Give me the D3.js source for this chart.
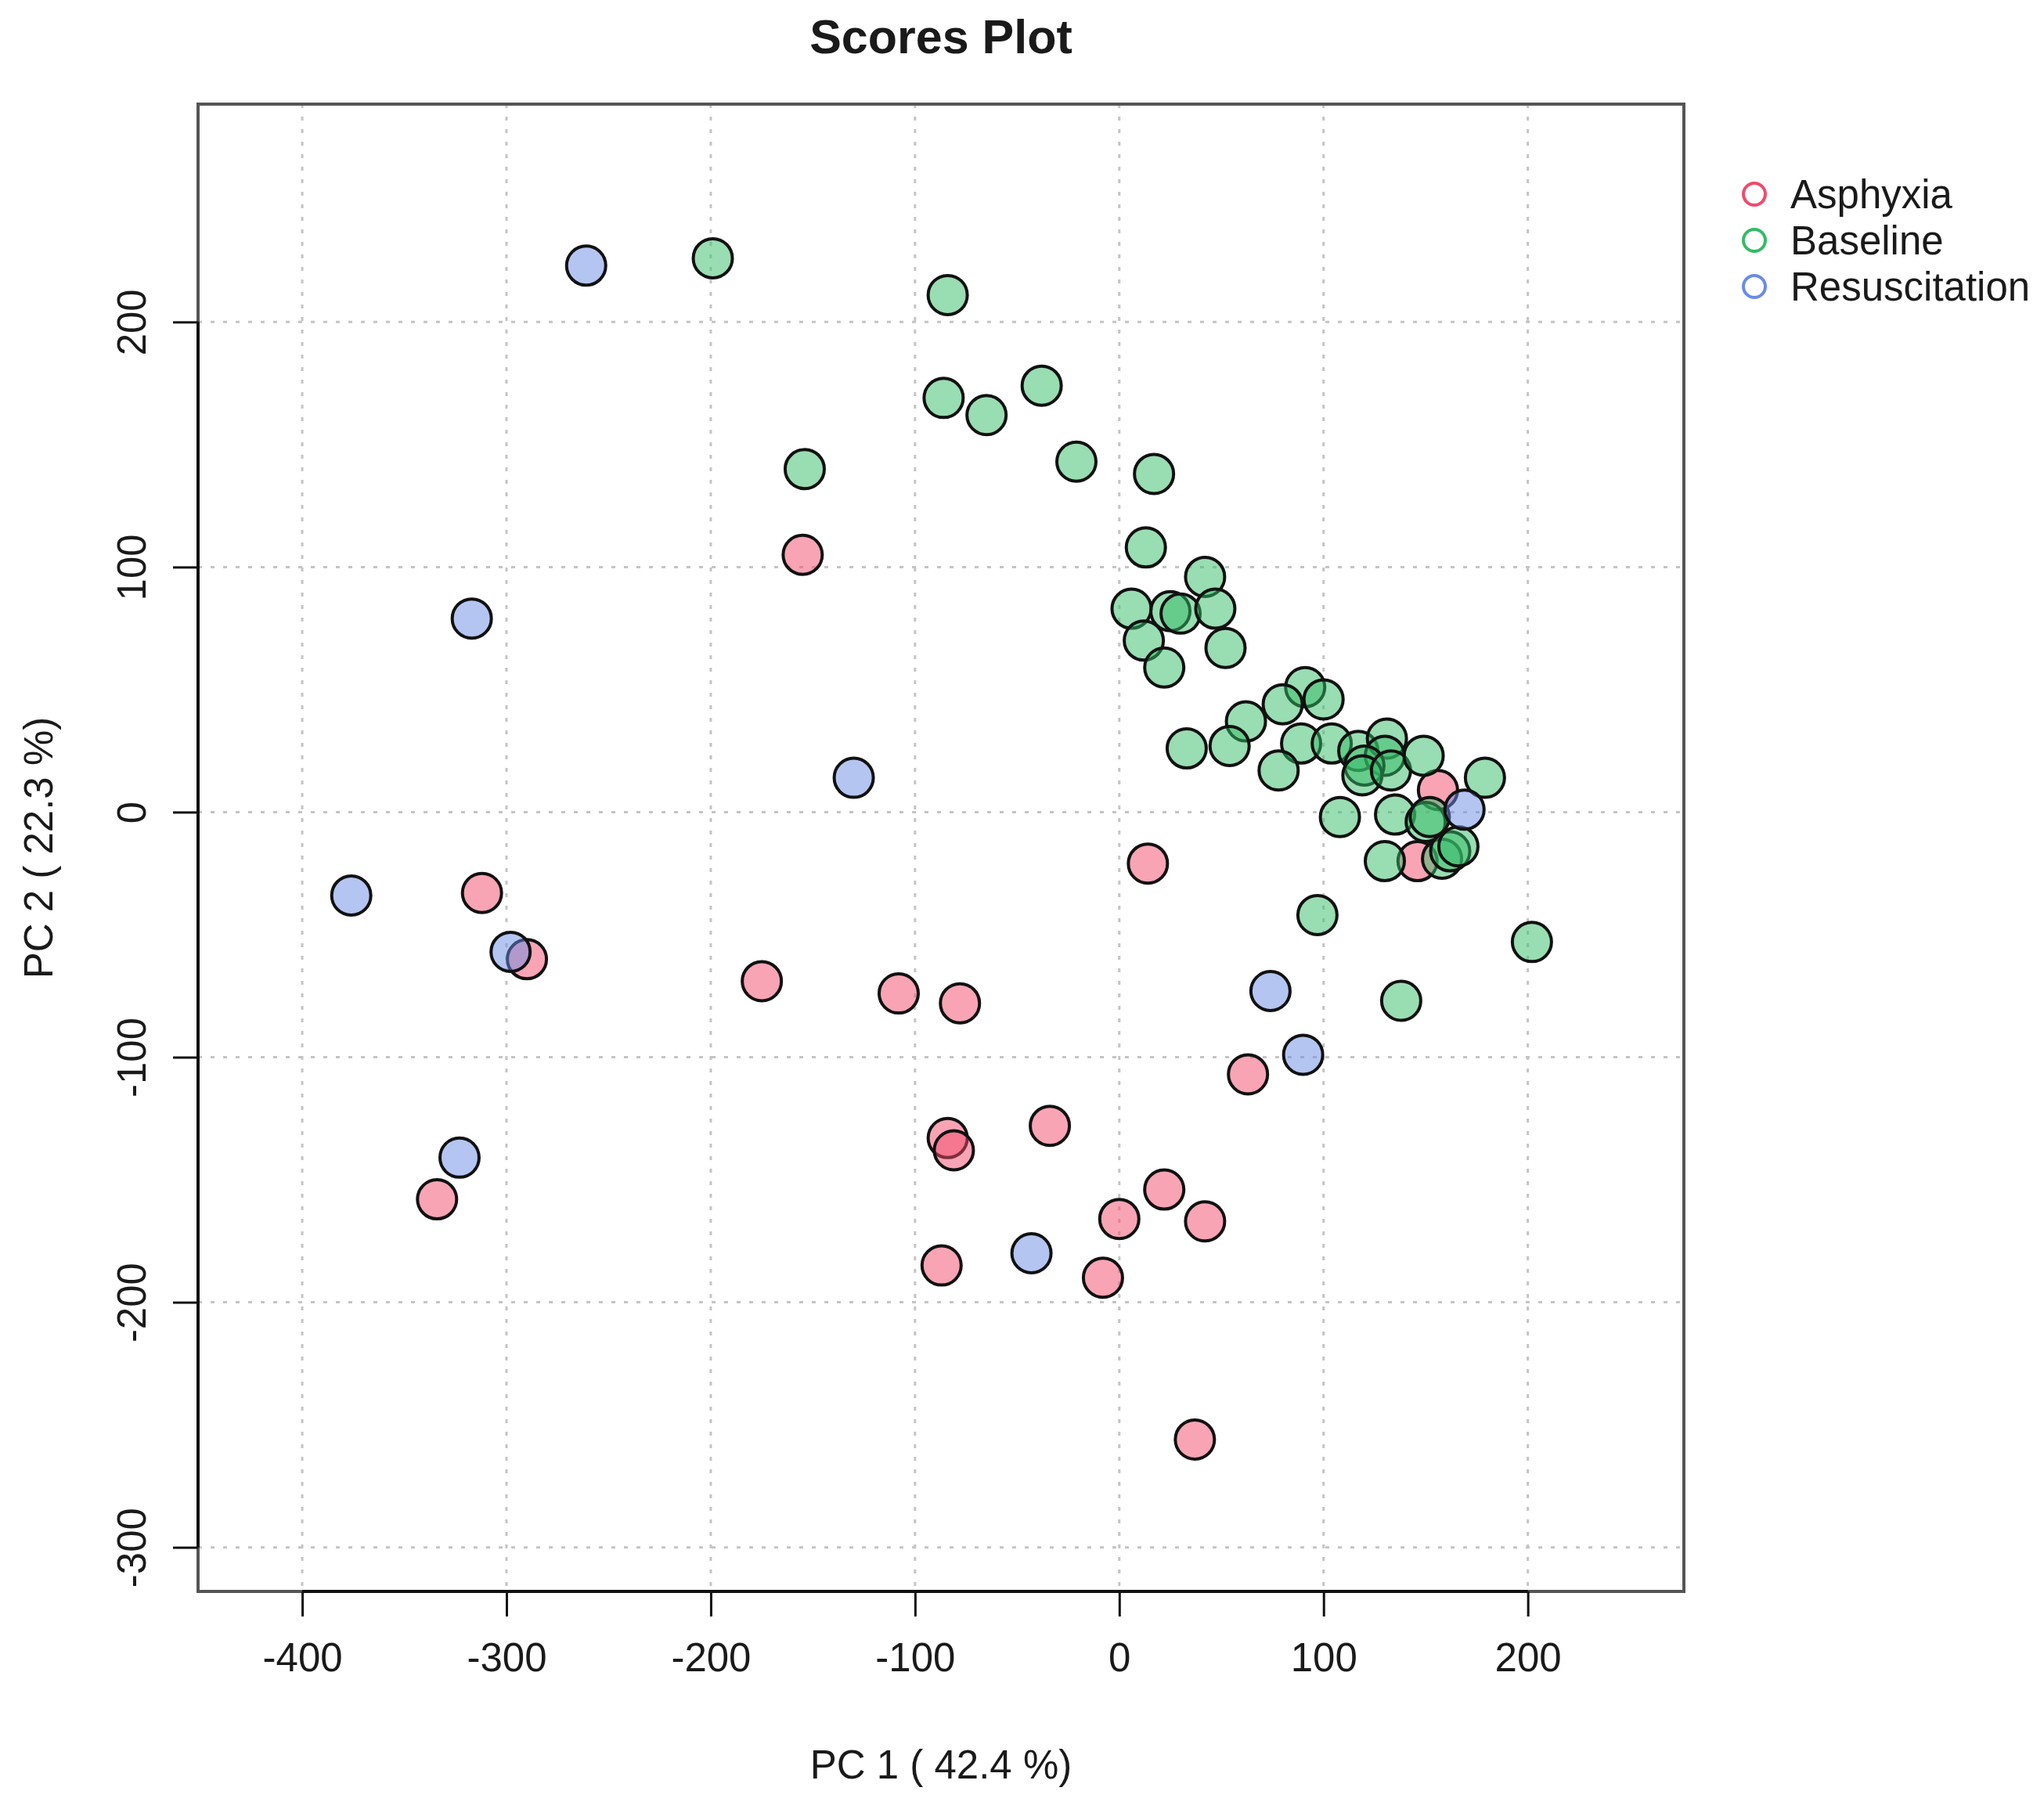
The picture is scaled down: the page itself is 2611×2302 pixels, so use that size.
<!DOCTYPE html>
<html>
<head>
<meta charset="utf-8">
<script src="https://cdn.jsdelivr.net/npm/d3@7"></script>
<style>
  body { margin: 0; background: #fff; }
  text { font-family: "Liberation Sans", Arial, sans-serif; fill: #1a1a1a; }
</style>
</head>
<body>
<svg id="chart"></svg>
<script>
// scores, PC1 / PC2 per group
var asphyxiaPC1 = [-155, -312, -290, -175, -108, -78, -84, -81, -34, -334, -87, 0, 22, 42, -8, 37, 63, 14, 156, 146];
var asphyxiaPC2 = [105, -33, -60, -69, -74, -78, -133, -138, -128, -158, -185, -166, -154, -167, -190, -256, -107, -21, 9, -20];

var baselinePC1 = [-199, -84, -86, -65, -38, -154, -21, 17, 13, 42, 6, 25, 30, 47, 12, 52, 22, 91, 100, 80, 62, 33, 54, 89, 104, 78, 117, 131, 130, 120, 119, 133, 149, 179, 108, 135, 150, 152, 130, 158, 162, 166, 97, 138, 202];
var baselinePC2 = [226, 211, 169, 162, 174, 140, 143, 138, 108, 96, 83, 82, 81, 83, 70, 67, 59, 51, 46, 44, 37, 26, 27, 28, 28, 17, 25, 30, 23, 19, 15, 17, 23, 14, -2, -1, -4, -2, -20, -19, -16, -14, -42, -77, -53];

var resusPC1 = [-261, -317, -130, -376, -298, -323, -43, 74, 90, 169];
var resusPC2 = [223, 79, 14, -34, -57, -141, -180, -73, -99, 1];

var groups = ['Asphyxia', 'Baseline', 'Resuscitation'];
var groupColors = ['#f24a6c', '#33bb66', '#6a8be6'];

var xTicks = [-400, -300, -200, -100, 0, 100, 200];
var yTicks = [-300, -200, -100, 0, 100, 200];

function zipGroup(g, xs, ys){
  return xs.map(function(v, i){ return {g: g, x: v, y: ys[i]}; });
}

window.onload = function(){
  var W = 2611, H = 2302;
  var left = 253, right = 2151, top = 133, bottom = 2033;

  var svg = d3.select('#chart').attr('width', W).attr('height', H);

  var x = d3.scaleLinear().domain([-451, 276.4]).range([left, right]);
  var y = d3.scaleLinear().domain([-318, 288.9]).range([bottom, top]);
  var color = d3.scaleOrdinal().domain(groups).range(groupColors);

  // dotted grid
  svg.append('g').selectAll('line.gx')
    .data(xTicks).enter().append('line')
      .attr('x1', function(d){ return x(d); })
      .attr('x2', function(d){ return x(d); })
      .attr('y1', top).attr('y2', bottom)
      .attr('stroke', '#c4c4c4').attr('stroke-width', 3)
      .attr('stroke-dasharray', '5,11');
  svg.append('g').selectAll('line.gy')
    .data(yTicks).enter().append('line')
      .attr('y1', function(d){ return y(d); })
      .attr('y2', function(d){ return y(d); })
      .attr('x1', left).attr('x2', right)
      .attr('stroke', '#c4c4c4').attr('stroke-width', 3)
      .attr('stroke-dasharray', '5,11');

  // points
  var data = zipGroup('Asphyxia', asphyxiaPC1, asphyxiaPC2)
    .concat(zipGroup('Baseline', baselinePC1, baselinePC2))
    .concat(zipGroup('Resuscitation', resusPC1, resusPC2));

  svg.append('g').selectAll('circle')
    .data(data).enter().append('circle')
      .attr('cx', function(d){ return x(d.x); })
      .attr('cy', function(d){ return y(d.y); })
      .attr('r', 25)
      .attr('fill', function(d){ return color(d.g); })
      .attr('fill-opacity', 0.5)
      .attr('stroke', '#111')
      .attr('stroke-width', 4);

  // box
  svg.append('rect')
    .attr('x', left).attr('y', top)
    .attr('width', right - left).attr('height', bottom - top)
    .attr('fill', 'none').attr('stroke', '#555').attr('stroke-width', 4);

  // axes (plain hyphen minus, like R)
  var xAxis = svg.append('g')
    .attr('transform', 'translate(0,' + bottom + ')')
    .call(d3.axisBottom(x).tickValues(xTicks).tickFormat(String).tickSize(32).tickPadding(34));
  var yAxis = svg.append('g')
    .attr('transform', 'translate(' + left + ',0)')
    .call(d3.axisLeft(y).tickValues(yTicks).tickFormat(String).tickSize(32).tickPadding(0));

  [xAxis, yAxis].forEach(function(a){
    a.select('.domain').attr('stroke', '#111').attr('stroke-width', 4);
    a.selectAll('.tick line').attr('stroke', '#111').attr('stroke-width', 3);
    a.selectAll('.tick text')
      .style('font-family', '"Liberation Sans", Arial, sans-serif')
      .style('font-size', '51px').attr('fill', '#1a1a1a');
  });
  xAxis.select('.domain').attr('d', 'M' + x(-400) + ',0H' + x(200));
  yAxis.select('.domain').attr('d', 'M0,' + y(-300) + 'V' + y(200));

  yAxis.selectAll('.tick text')
    .attr('x', null).attr('dy', null)
    .attr('text-anchor', 'middle')
    .attr('transform', 'translate(-85,0) rotate(-90)')
    .attr('dominant-baseline', 'central');

  // titles
  svg.append('text')
    .attr('x', (left + right) / 2).attr('y', 68)
    .attr('text-anchor', 'middle')
    .style('font-size', '61px').style('font-weight', 'bold')
    .text('Scores Plot');

  svg.append('text')
    .attr('x', (left + right) / 2).attr('y', 2272)
    .attr('text-anchor', 'middle')
    .style('font-size', '51px')
    .text('PC 1 ( 42.4 %)');

  svg.append('text')
    .attr('transform', 'translate(67,' + (top + bottom) / 2 + ') rotate(-90)')
    .attr('text-anchor', 'middle')
    .style('font-size', '51px')
    .text('PC 2 ( 22.3 %)');

  // legend
  var leg = svg.append('g').selectAll('g')
    .data(groups).enter().append('g')
      .attr('transform', function(d, i){ return 'translate(2241,' + (248 + i * 59) + ')'; });
  leg.append('circle')
    .attr('r', 14)
    .attr('fill', 'none')
    .attr('stroke', function(d){ return color(d); })
    .attr('stroke-width', 4);
  leg.append('text')
    .attr('x', 46)
    .attr('dy', '0.36em')
    .style('font-size', '51px')
    .text(function(d){ return d; });
};
</script>
</body>
</html>
